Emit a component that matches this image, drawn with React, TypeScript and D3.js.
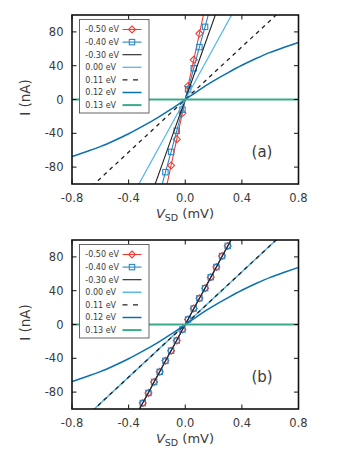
import React from "react";
import * as d3 from "d3";

// ---------- data ----------
const X_TICKS = [-0.8, -0.4, 0.0, 0.4, 0.8];
const Y_TICKS = [-80, -40, 0, 40, 80];

const LEGEND_LABELS = ["-0.50 eV", "-0.40 eV", "-0.30 eV", "0.00 eV", "0.11 eV", "0.12 eV", "0.13 eV"];

// panel (a)
const A_V050 = [-0.14, -0.10, -0.06, -0.02, 0.02, 0.06, 0.10, 0.14];
const A_I050 = [-109, -78, -47, -16, 16, 47, 78, 109];
const A_V040 = [-0.18, -0.14, -0.10, -0.06, -0.02, 0.02, 0.06, 0.10, 0.14, 0.18];
const A_I040 = [-111, -86, -62, -37, -12, 12, 37, 62, 86, 111];
const A_V030 = [-0.24, 0.0, 0.24];
const A_I030 = [-113, 0, 113];
const A_V000 = [-0.36, 0.0, 0.36];
const A_I000 = [-110, 0, 110];
const A_V011 = [-0.7, 0.0, 0.7];
const A_I011 = [-109, 0, 109];

// shared curves
const V012 = [-0.8, -0.7, -0.6, -0.5, -0.4, -0.3, -0.2, -0.1, 0.0, 0.1, 0.2, 0.3, 0.4, 0.5, 0.6, 0.7, 0.8];
const I012 = [-67.5, -61.8, -55.8, -48.5, -40.5, -31.5, -22, -11.5, 0, 11.5, 22, 31.5, 40.5, 48.5, 55.8, 61.8, 67.5];
const V013 = [-0.8, 0.8];
const I013 = [0, 0];

// panel (b)
const B_V050 = [-0.34, -0.30, -0.26, -0.22, -0.18, -0.14, -0.10, -0.06, -0.02, 0.02, 0.06, 0.10, 0.14, 0.18, 0.22, 0.26, 0.30, 0.34];
const B_I050 = [-105, -93, -81, -68, -56, -43, -31, -19, -6, 6, 19, 31, 43, 56, 68, 81, 93, 105];
const B_V040 = B_V050;
const B_I040 = B_I050;
const B_V030 = [-0.34, 0.0, 0.34];
const B_I030 = [-105, 0, 105];
const B_V000 = [-0.7, 0.0, 0.7];
const B_I000 = [-109, 0, 109];
const B_V011 = [-0.7, 0.0, 0.7];
const B_I011 = [-109, 0, 109];

// ---------- styles ----------
const RED = "#ec4037";
const MBLUE = "#2a86c6";
const BLACK = "#222222";
const LBLUE = "#5bb6ea";
const DBLUE = "#0a70b2";
const GREEN = "#3aab8a";
const TXT = "#3a3a3a";
const FONT = "DejaVu Sans, sans-serif";

type Pt = [number, number];
const zip = (v: number[], i: number[]): Pt[] => v.map((x, k) => [x, i[k]]);

interface Series {
  pts: Pt[];
  color: string;
  width: number;
  dash?: string;
  marker?: "diamond" | "square";
}

function Diamond({ x, y, color }: { x: number; y: number; color: string }) {
  const r = 3.5;
  return (
    <path
      d={`M${x},${y - r}L${x + r},${y}L${x},${y + r}L${x - r},${y}Z`}
      fill="none"
      stroke={color}
      strokeWidth={1.1}
    />
  );
}
function Square({ x, y, color }: { x: number; y: number; color: string }) {
  const r = 2.7;
  return <rect x={x - r} y={y - r} width={2 * r} height={2 * r} fill="none" stroke={color} strokeWidth={1.1} />;
}

function Panel({ top, series, tag, id }: { top: number; series: Series[]; tag: string; id: string }) {
  const left = 72;
  const right = 298.5;
  const bottom = top + 169;
  const x = d3.scaleLinear().domain([-0.8, 0.8]).range([left, right]);
  const y = d3.scaleLinear().domain([-100, 100]).range([bottom, top]);
  const line = d3
    .line<Pt>()
    .x((d) => x(d[0]))
    .y((d) => y(d[1]))
    .curve(d3.curveMonotoneX);
  const tickLen = 4.5;
  const legX = 79.5;
  const legY = top + 4.5;
  const rowH = 12.6;
  return (
    <g>
      <defs>
        <clipPath id={id}>
          <rect x={left} y={top} width={right - left} height={bottom - top} />
        </clipPath>
      </defs>
      <g clipPath={`url(#${id})`}>
        {series.map((s, k) => (
          <g key={k}>
            <path d={line(s.pts) || ""} fill="none" stroke={s.color} strokeWidth={s.width} strokeDasharray={s.dash} />
            {s.marker &&
              s.pts.map((p, j) =>
                s.marker === "diamond" ? (
                  <Diamond key={j} x={x(p[0])} y={y(p[1])} color={s.color} />
                ) : (
                  <Square key={j} x={x(p[0])} y={y(p[1])} color={s.color} />
                )
              )}
          </g>
        ))}
      </g>
      {/* ticks */}
      {X_TICKS.map((t) => (
        <g key={"x" + t}>
          <line x1={x(t)} x2={x(t)} y1={bottom} y2={bottom - tickLen} stroke="#111" strokeWidth={1} />
          <line x1={x(t)} x2={x(t)} y1={top} y2={top + tickLen} stroke="#111" strokeWidth={1} />
          <text x={x(t)} y={bottom + 17.5} textAnchor="middle" fontFamily={FONT} fontSize={11.5} fill={TXT}>
            {t.toFixed(1)}
          </text>
        </g>
      ))}
      {Y_TICKS.map((t) => (
        <g key={"y" + t}>
          <line x1={left} x2={left + tickLen} y1={y(t)} y2={y(t)} stroke="#111" strokeWidth={1} />
          <line x1={right} x2={right - tickLen} y1={y(t)} y2={y(t)} stroke="#111" strokeWidth={1} />
          <text x={left - 8.5} y={y(t)} dy="0.36em" textAnchor="end" fontFamily={FONT} fontSize={11.5} fill={TXT}>
            {String(t)}
          </text>
        </g>
      ))}
      <rect x={left} y={top} width={right - left} height={bottom - top} fill="none" stroke="#111" strokeWidth={1.6} />
      {/* legend */}
      <rect x={legX} y={legY} width={69.5} height={93.5} fill="white" stroke="#555" strokeWidth={0.9} />
      {series.map((s, k) => {
        const cy = legY + 10 + k * rowH;
        return (
          <g key={"l" + k}>
            <text x={legX + 5.8} y={cy} dy="0.35em" fontFamily={FONT} fontSize={8} fill={TXT}>
              {LEGEND_LABELS[k]}
            </text>
            <line x1={legX + 43} x2={legX + 62} y1={cy} y2={cy} stroke={s.color} strokeWidth={s.width} strokeDasharray={s.dash ? "5,5.5" : undefined} />
            {s.marker === "diamond" && <Diamond x={legX + 52.5} y={cy} color={s.color} />}
            {s.marker === "square" && <Square x={legX + 52.5} y={cy} color={s.color} />}
          </g>
        );
      })}
      <text x={262} y={top + 137} dy="0.35em" textAnchor="middle" fontFamily={FONT} fontSize={15} fill={TXT}>
        {tag}
      </text>
      {/* axis labels */}
      <text x={185} y={bottom + 34} textAnchor="middle" fontFamily={FONT} fontSize={13} fill={TXT}>
        <tspan fontStyle="italic">V</tspan>
        <tspan fontSize={9.5} dy={2.5}>SD</tspan>
        <tspan dy={-2.5}> (mV)</tspan>
      </text>
      <text
        transform={`translate(25,${(top + bottom) / 2 - 2}) rotate(-90)`}
        textAnchor="middle"
        dy="0.35em"
        fontFamily={FONT}
        fontSize={13.5}
        fill={TXT}
      >
        I (nA)
      </text>
    </g>
  );
}

export default function App() {
  const seriesA: Series[] = [
    { pts: zip(A_V050, A_I050), color: RED, width: 1.1, marker: "diamond" },
    { pts: zip(A_V040, A_I040), color: MBLUE, width: 1.1, marker: "square" },
    { pts: zip(A_V030, A_I030), color: BLACK, width: 1.1 },
    { pts: zip(A_V000, A_I000), color: LBLUE, width: 1.3 },
    { pts: zip(A_V011, A_I011), color: BLACK, width: 1.3, dash: "4,4" },
    { pts: zip(V012, I012), color: DBLUE, width: 1.5 },
    { pts: zip(V013, I013), color: GREEN, width: 2 },
  ];
  const seriesB: Series[] = [
    { pts: zip(B_V050, B_I050), color: RED, width: 1.1, marker: "diamond" },
    { pts: zip(B_V040, B_I040), color: MBLUE, width: 1.1, marker: "square" },
    { pts: zip(B_V030, B_I030), color: BLACK, width: 1.1 },
    { pts: zip(B_V000, B_I000), color: LBLUE, width: 1.5 },
    { pts: zip(B_V011, B_I011), color: BLACK, width: 1.3, dash: "4,4" },
    { pts: zip(V012, I012), color: DBLUE, width: 1.5 },
    { pts: zip(V013, I013), color: GREEN, width: 2 },
  ];
  return (
    <svg width={338} height={450} style={{ position: "absolute", left: 0, top: 0, background: "white" }}>
      <Panel top={15} series={seriesA} tag="(a)" id="clipA" />
      <Panel top={240} series={seriesB} tag="(b)" id="clipB" />
    </svg>
  );
}
